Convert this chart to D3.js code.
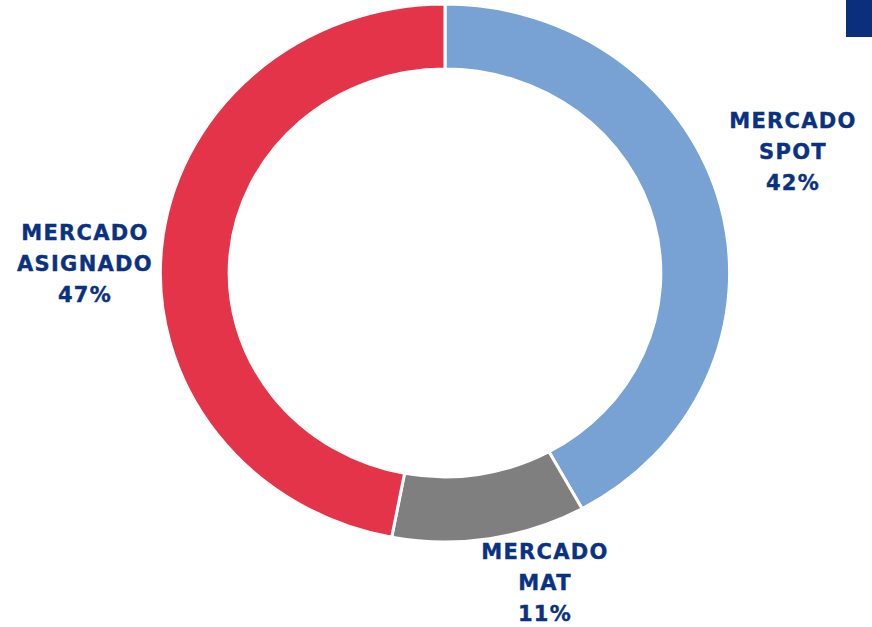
<!DOCTYPE html>
<html>
<head>
<meta charset="utf-8">
<script src="https://cdnjs.cloudflare.com/ajax/libs/d3/7.8.5/d3.min.js"></script>
<style>
  body { margin: 0; background: #fff; }
  .label { font-family: "DejaVu Sans", sans-serif; font-weight: bold; font-size: 21px; fill: #0B3281; letter-spacing: 1.3px; stroke: #0B3281; stroke-width: 0.4px; }
</style>
</head>
<body>
<div id="vis"></div>
<script>
var segments = ["MERCADO SPOT", "MERCADO MAT", "MERCADO ASIGNADO"];
var shares = [42, 11, 47];
var colors = ["#77A2D3", "#7F7F7F", "#E4344A"];
var labelLines = [["MERCADO", "SPOT", "42%"], ["MERCADO", "MAT", "11%"], ["MERCADO", "ASIGNADO", "47%"]];

var width = 872, height = 627;
var cx = 445, cy = 273;
var outerR = 269, innerR = 204;
var stretch = 1.058;

// where each label block sits (centre x, first baseline y)
var labelPos = [{x: 793, y: 128}, {x: 545, y: 559}, {x: 85, y: 240}];
var lineGap = 31;

var data = segments.map(function(d, i) {
  return {name: d, value: shares[i], color: colors[i], lines: labelLines[i], pos: labelPos[i]};
});

var svg = d3.select("#vis").append("svg")
  .attr("width", width)
  .attr("height", height);

var pie = d3.pie()
  .sort(null)
  .value(function(d) { return d.value; });

var arc = d3.arc()
  .innerRadius(innerR)
  .outerRadius(outerR);

var g = svg.append("g")
  .attr("transform", "translate(" + cx + "," + cy + ") scale(" + stretch + ",1)");

g.selectAll(".slice")
  .data(pie(data)).enter()
  .append("path")
  .attr("class", "slice")
  .attr("d", arc)
  .attr("fill", function(d) { return d.data.color; })
  .attr("stroke", "#fff")
  .attr("stroke-width", 3)
  .attr("vector-effect", "non-scaling-stroke");

var labels = svg.selectAll(".label")
  .data(data).enter()
  .append("text")
  .attr("class", "label")
  .attr("text-anchor", "middle");

labels.selectAll("tspan")
  .data(function(d) {
    return d.lines.map(function(t, i) { return {t: t, x: d.pos.x, y: d.pos.y + i * lineGap}; });
  }).enter()
  .append("tspan")
  .attr("x", function(d) { return d.x; })
  .attr("y", function(d) { return d.y; })
  .text(function(d) { return d.t; });

// corner tab
svg.append("rect")
  .attr("x", 846)
  .attr("y", 0)
  .attr("width", 26)
  .attr("height", 37)
  .attr("fill", "#0B2F7D");
</script>
</body>
</html>
